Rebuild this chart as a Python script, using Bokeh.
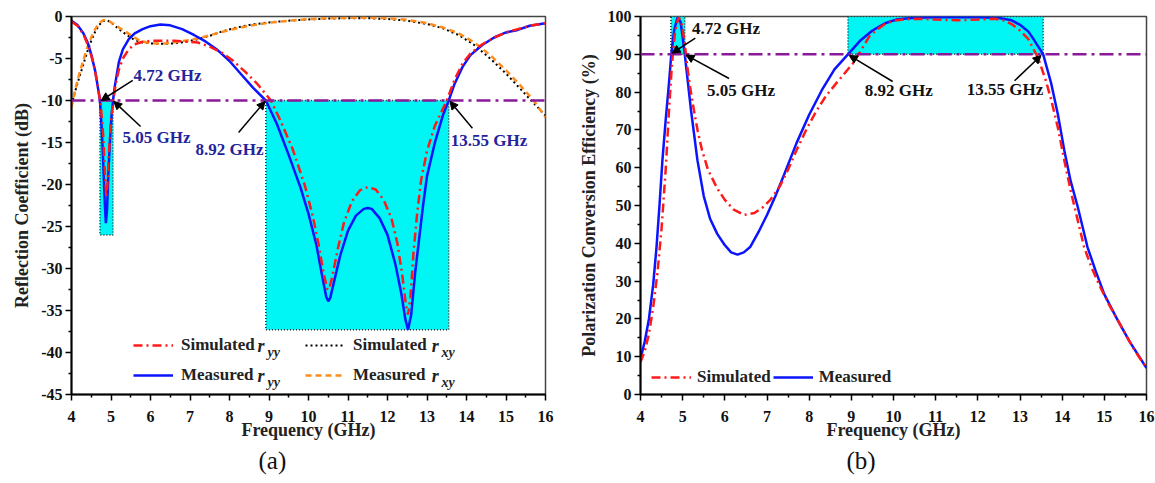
from bokeh.plotting import figure
from bokeh.models import (Legend, LegendItem, Label, Arrow, NormalHead, Span,
                          FixedTicker, Range1d, Title)
from bokeh.layouts import row
from bokeh.embed import file_html
from bokeh.resources import INLINE

# ---------------- data: panel (a) reflection coefficient (dB) ----------------
f_meas_yy = [4.0, 4.15, 4.3, 4.4, 4.5, 4.6, 4.68, 4.72, 4.76, 4.8, 4.84, 4.87, 4.9, 4.93, 4.97,
             5.01, 5.05, 5.1, 5.2, 5.3, 5.45, 5.6, 5.8, 6.0, 6.25, 6.5, 6.8, 7.1, 7.4, 7.7, 8.0,
             8.3, 8.6, 8.92, 9.2, 9.5, 9.8, 10.0, 10.2, 10.35, 10.45, 10.5, 10.55, 10.65, 10.8,
             11.0, 11.2, 11.4, 11.5, 11.6, 11.8, 12.0, 12.2, 12.35, 12.45, 12.52, 12.6, 12.7,
             12.8, 12.9, 13.0, 13.2, 13.4, 13.55, 13.7, 13.9, 14.1, 14.4, 14.7, 15.0, 15.3,
             15.6, 16.0]
db_meas_yy = [-0.5, -1.0, -2.0, -3.0, -4.5, -6.5, -8.8, -10.0, -13.0, -17.0, -22.0, -24.6, -23.0,
              -19.0, -15.0, -12.0, -10.0, -8.2, -5.4, -3.9, -2.7, -2.0, -1.5, -1.15, -0.95, -1.05,
              -1.5, -2.2, -3.0, -4.0, -5.3, -6.9, -8.5, -10.0, -12.8, -16.5, -20.4, -23.5, -27.2,
              -31.0, -33.4, -33.9, -33.5, -31.5, -28.5, -25.5, -23.7, -22.9, -22.8, -22.9, -24.0,
              -26.0, -29.5, -33.0, -36.0, -37.3, -35.5, -30.5, -26.5, -22.5, -19.0, -15.0, -11.8,
              -10.0, -8.0, -6.0, -4.6, -3.4, -2.5, -1.9, -1.6, -1.1, -0.8]

f_sim_yy = [4.0, 4.15, 4.3, 4.45, 4.55, 4.65, 4.74, 4.8, 4.85, 4.88, 4.91, 4.95, 5.0, 5.05, 5.12,
            5.2, 5.3, 5.45, 5.6, 5.8, 6.0, 6.3, 6.6, 6.9, 7.2, 7.5, 7.8, 8.1, 8.4, 8.7, 9.05, 9.3,
            9.6, 9.9, 10.1, 10.25, 10.38, 10.47, 10.52, 10.6, 10.75, 10.9, 11.1, 11.3, 11.5,
            11.7, 11.9, 12.1, 12.25, 12.38, 12.47, 12.52, 12.58, 12.66, 12.75, 12.85, 13.0,
            13.2, 13.42, 13.5, 13.7, 13.9, 14.1, 14.4, 14.7, 15.0, 15.3, 15.6, 16.0]
db_sim_yy = [-0.6, -1.1, -2.1, -3.8, -5.5, -7.8, -10.5, -14.0, -19.0, -21.5, -20.0, -16.0, -12.5,
             -10.2, -8.0, -6.3, -5.0, -3.9, -3.3, -3.0, -2.9, -2.9, -2.9, -3.0, -3.1, -3.6, -4.3,
             -5.3, -6.6, -8.0, -10.0, -12.5, -15.8, -20.0, -23.6, -27.0, -30.5, -32.4, -32.5,
             -31.0, -27.5, -24.5, -22.0, -20.7, -20.3, -20.6, -21.8, -24.0, -27.0, -31.0, -34.5,
             -35.5, -33.5, -28.0, -23.5, -19.5, -16.0, -13.0, -10.8, -10.0, -7.5, -5.6, -4.4,
             -3.3, -2.5, -1.9, -1.5, -1.1, -0.8]

f_sim_xy = [4.0, 4.1, 4.2, 4.3, 4.4, 4.5, 4.6, 4.7, 4.8, 4.9, 5.0, 5.2, 5.4, 5.6, 5.8, 6.0, 6.3,
            6.6, 6.9, 7.2, 7.5, 7.8, 8.1, 8.5, 9.0, 9.5, 10.0, 10.5, 11.0, 11.5, 12.0, 12.5,
            13.0, 13.4, 13.8, 14.2, 14.6, 15.0, 15.4, 15.7, 16.0]
db_sim_xy = [-10.5, -8.8, -7.2, -5.7, -4.2, -2.9, -1.8, -1.0, -0.55, -0.45, -0.7, -1.5, -2.2,
             -2.8, -3.1, -3.2, -3.25, -3.2, -3.0, -2.7, -2.3, -1.8, -1.4, -1.0, -0.7, -0.5,
             -0.35, -0.25, -0.2, -0.2, -0.3, -0.5, -0.9, -1.4, -2.2, -3.4, -5.0, -6.8, -8.8,
             -10.3, -11.8]

f_meas_xy = [4.0, 4.1, 4.2, 4.3, 4.4, 4.5, 4.6, 4.7, 4.8, 4.87, 4.95, 5.1, 5.3, 5.5, 5.7, 5.9,
             6.1, 6.4, 6.7, 7.0, 7.3, 7.6, 8.0, 8.5, 9.0, 9.5, 10.0, 10.5, 11.0, 11.5, 12.0,
             12.5, 13.0, 13.4, 13.8, 14.2, 14.6, 15.0, 15.4, 15.7, 16.0]
db_meas_xy = [-10.8, -8.6, -6.8, -5.2, -3.7, -2.5, -1.5, -0.8, -0.45, -0.4, -0.55, -1.0, -1.6,
              -2.2, -2.8, -3.1, -3.2, -3.2, -3.0, -2.8, -2.5, -2.1, -1.6, -1.1, -0.75, -0.5,
              -0.3, -0.2, -0.15, -0.15, -0.2, -0.4, -0.8, -1.3, -2.0, -3.1, -4.6, -6.4, -8.4,
              -10.0, -12.0]

# bands (crossing frequencies) and shading depth
band_lo = [4.72, 8.92]
band_hi = [5.05, 13.55]
band_bottom_db = [-26.0, -37.3]
ref_level_db = -10.0

# ---------------- data: panel (b) polarization conversion efficiency (%) ----------------
f_pcr_meas = [4.0, 4.1, 4.2, 4.3, 4.38, 4.45, 4.52, 4.6, 4.68, 4.73, 4.8, 4.88, 4.95, 5.0, 5.05,
              5.12, 5.2, 5.35, 5.5, 5.65, 5.82, 6.0, 6.15, 6.3, 6.45, 6.6, 6.8, 7.0, 7.2, 7.4,
              7.7, 8.0, 8.3, 8.6, 8.92, 9.2, 9.5, 9.8, 10.1, 10.5, 11.0, 11.5, 12.0, 12.5,
              12.8, 13.0, 13.2, 13.35, 13.55, 13.74, 13.9, 14.05, 14.2, 14.37, 14.6, 14.8,
              15.0, 15.3, 15.6, 16.0]
pcr_meas = [9.5, 14, 20, 29, 39, 50, 62, 73, 83, 90, 96.5, 99.8, 98.5, 94.5, 90, 83, 75, 62,
            52.5, 46.5, 42.5, 39.5, 37.6, 37.0, 37.6, 39, 43, 47.5, 52.5, 58, 66.5, 74, 80.5,
            86.0, 90, 93.5, 96.3, 98.2, 99.3, 99.7, 99.8, 99.8, 99.8, 99.6, 99.0, 97.8, 96,
            93.5, 90, 82.3, 74, 64.6, 56.5, 49.6, 39, 32.5, 26.5, 20, 14, 7.0]

f_pcr_sim = [4.0, 4.1, 4.2, 4.3, 4.4, 4.5, 4.6, 4.68, 4.75, 4.82, 4.9, 4.97, 5.05, 5.1, 5.18,
             5.27, 5.36, 5.46, 5.6, 5.82, 6.0, 6.2, 6.45, 6.7, 6.9, 7.08, 7.3, 7.5, 7.7, 7.95,
             8.17, 8.4, 8.64, 9.03, 9.2, 9.43, 9.6, 9.8, 10.0, 10.3, 10.6, 11.0, 11.5, 12.0,
             12.4, 12.6, 12.8, 13.0, 13.2, 13.43, 13.6, 13.74, 13.9, 14.05, 14.2, 14.35, 14.52,
             14.7, 14.9, 15.1, 15.4, 15.7, 16.0]
pcr_sim = [8.5, 11.5, 16, 23, 32, 44, 60, 76, 88, 96, 99.8, 98.5, 93, 87.5, 81, 75, 69.5, 64.6,
           59.5, 54.5, 51.5, 49, 47.5, 48, 49.5, 51.5, 55, 59.5, 64.6, 70.5, 75, 79, 82.3, 87.5,
           90.5, 94.8, 96.5, 98.0, 98.9, 99.3, 99.4, 99.2, 99.0, 99.2, 99.4, 99.0, 98.0, 96.3,
           94, 89, 83.5, 78, 70.5, 62, 54, 47, 39, 33.5, 28.5, 24, 18, 12, 7.0]

pcr_band_bottom = [90.0, 90.0]
pcr_band_top = [100.0, 100.0]
ref_level_pcr = 90.0

x_ticks = list(range(4, 17))
x_minor = [4.5 + i for i in range(12)]
y_ticks_a = [-45, -40, -35, -30, -25, -20, -15, -10, -5, 0]
y_tick_labels_a = ["-45", "-40", "-35", "-30", "-25", "-20", "-15", "-10", "-5", "0"]
y_ticks_b = [0, 10, 20, 30, 40, 50, 60, 70, 80, 90, 100]
y_tick_labels_b = [str(v) for v in y_ticks_b]

SERIF = "Liberation Serif"
BLUE = "#0a14ff"
RED = "#ff1a1a"
ORANGE = "#ff8c1a"
PURPLE = "#8a1a9a"
CYAN = "#00f5f5"
NAVY = "#23239b"


def style(p, yticks, ylabels):
    p.outline_line_color = "#444444"
    p.outline_line_width = 1.5
    p.grid.visible = False
    p.xaxis.ticker = FixedTicker(ticks=x_ticks, minor_ticks=x_minor)
    p.xaxis.major_label_overrides = {t: str(t) for t in x_ticks}
    minor_y = []
    step = yticks[1] - yticks[0]
    for t in yticks[:-1]:
        minor_y.append(t + step / 2)
    p.yaxis.ticker = FixedTicker(ticks=yticks, minor_ticks=minor_y)
    p.yaxis.major_label_overrides = {t: l for t, l in zip(yticks, ylabels)}
    for ax in (p.xaxis[0], p.yaxis[0]):
        ax.axis_line_width = 2
        ax.axis_line_color = "black"
        ax.major_tick_in = 0
        ax.major_tick_out = 6
        ax.minor_tick_in = 0
        ax.minor_tick_out = 3
        ax.major_tick_line_width = 1.5
        ax.minor_tick_line_width = 1.5
        ax.major_label_text_font = SERIF
        ax.major_label_text_font_style = "bold"
        ax.major_label_text_font_size = "16px"
        ax.major_label_text_color = "#111111"
        ax.axis_label_text_font = SERIF
        ax.axis_label_text_font_style = "bold"
        ax.axis_label_text_font_size = "18px"
        ax.axis_label_text_color = "#222222"
    p.xaxis.major_label_standoff = 10
    p.xaxis.axis_label_standoff = -5
    p.yaxis.major_label_standoff = 3
    p.yaxis.axis_label_standoff = 6


def label(p, x, y, text, color, size="17px", style_="bold"):
    p.add_layout(Label(x=x, y=y, text=text, text_color=color, text_font=SERIF,
                       text_font_style=style_, text_font_size=size,
                       text_baseline="middle", text_align="left"))


def arrow(p, x0, y0, x1, y1):
    p.add_layout(Arrow(end=NormalHead(size=8, fill_color="black", line_color="black"),
                       x_start=x0, y_start=y0, x_end=x1, y_end=y1,
                       line_color="black", line_width=1.5))


def caption(p, text, offset):
    p.add_layout(Title(text=text, align="left", offset=offset, text_font=SERIF,
                       text_font_style="normal", text_font_size="25px",
                       text_color="#111111", standoff=4), "below")


# ======================= panel (a) =======================
pa = figure(width=575, height=483, output_backend="svg", toolbar_location=None,
            x_range=Range1d(4, 16), y_range=Range1d(-45, 0),
            min_border_left=71, min_border_right=30, min_border_top=16, min_border_bottom=89,
            x_axis_label="Frequency (GHz)", y_axis_label="Reflection Coefficient (dB)")
style(pa, y_ticks_a, y_tick_labels_a)

pa.quad(left=band_lo, right=band_hi, top=[ref_level_db] * 2, bottom=band_bottom_db,
        fill_color=CYAN, line_color="#222222", line_dash="1 2", line_width=1.5)
pa.add_layout(Span(location=ref_level_db, dimension="width", line_color=PURPLE,
                   line_dash="14 5 3 5", line_width=2.5))

r_sxy = pa.line(f_sim_xy, db_sim_xy, line_color="black", line_dash="2 3", line_width=2)
r_mxy = pa.line(f_meas_xy, db_meas_xy, line_color=ORANGE, line_dash="6 4", line_width=2.5)
r_myy = pa.line(f_meas_yy, db_meas_yy, line_color=BLUE, line_width=2.5)
r_syy = pa.line(f_sim_yy, db_sim_yy, line_color=RED, line_dash="9 4 2 4", line_width=2.5)

leg_a = Legend(items=[LegendItem(label="Simulated", renderers=[r_syy]),
                      LegendItem(label="Measured", renderers=[r_myy]),
                      LegendItem(label="Simulated", renderers=[r_sxy]),
                      LegendItem(label="Measured", renderers=[r_mxy])],
               ncols=2, location=(62, 7), padding=0, margin=0, spacing=6,
               glyph_width=40, glyph_height=24, label_height=24, label_width=118,
               label_standoff=8, border_line_alpha=0, background_fill_alpha=0,
               label_text_font=SERIF, label_text_font_style="bold",
               label_text_font_size="17px", label_text_color="#222222")
pa.add_layout(leg_a)

for xr, xs, yr, sub in [(8.71, 8.96, -39.2, "yy"), (13.12, 13.37, -39.2, "xy"),
                        (8.71, 8.96, -42.75, "yy"), (13.12, 13.37, -42.75, "xy")]:
    label(pa, xr, yr, "r", "#222222", size="18px", style_="bold italic")
    label(pa, xs, yr - 0.8, sub, "#222222", size="14px", style_="bold italic")

label(pa, 5.57, -7.0, "4.72 GHz", NAVY)
arrow(pa, 5.55, -7.6, 4.75, -10.0)
label(pa, 5.29, -14.4, "5.05 GHz", NAVY)
arrow(pa, 5.75, -13.1, 5.07, -10.1)
label(pa, 7.14, -15.8, "8.92 GHz", NAVY)
arrow(pa, 8.23, -13.8, 8.9, -10.1)
label(pa, 13.6, -14.8, "13.55 GHz", NAVY)
arrow(pa, 14.15, -13.3, 13.58, -10.1)

caption(pa, "(a)", 187)

# ======================= panel (b) =======================
pb = figure(width=580, height=483, output_backend="svg", toolbar_location=None,
            x_range=Range1d(4, 16), y_range=Range1d(0, 100),
            min_border_left=61, min_border_right=9, min_border_top=16, min_border_bottom=88,
            x_axis_label="Frequency (GHz)", y_axis_label="Polarization Conversion Efficiency (%)")
style(pb, y_ticks_b, y_tick_labels_b)

pb.quad(left=band_lo, right=band_hi, top=pcr_band_top, bottom=pcr_band_bottom,
        fill_color=CYAN, line_color="#222222", line_dash="1 2", line_width=1.5)
pb.add_layout(Span(location=ref_level_pcr, dimension="width", line_color=PURPLE,
                   line_dash="14 5 3 5", line_width=2.5))
rb_meas = pb.line(f_pcr_meas, pcr_meas, line_color=BLUE, line_width=2.5)
rb_sim = pb.line(f_pcr_sim, pcr_sim, line_color=RED, line_dash="9 4 2 4", line_width=2.5)

leg_b = Legend(items=[LegendItem(label="Simulated", renderers=[rb_sim]),
                      LegendItem(label="Measured", renderers=[rb_meas])],
               orientation="horizontal", location=(11, 5), padding=0, margin=0, spacing=2,
               glyph_width=40, glyph_height=24, label_height=24, label_standoff=6,
               border_line_alpha=0, background_fill_alpha=0,
               label_text_font=SERIF, label_text_font_style="bold",
               label_text_font_size="17px", label_text_color="#222222")
pb.add_layout(leg_b)

label(pb, 5.22, 96.8, "4.72 GHz", "#111111")
arrow(pb, 5.3, 94.3, 4.75, 90.3)
label(pb, 5.58, 80.3, "5.05 GHz", "#111111")
arrow(pb, 6.1, 83.6, 5.08, 89.8)
label(pb, 9.32, 80.5, "8.92 GHz", "#111111")
arrow(pb, 9.98, 82.8, 8.95, 89.7)
label(pb, 11.74, 80.7, "13.55 GHz", "#111111")
arrow(pb, 12.87, 83.0, 13.5, 89.7)

caption(pb, "(b)", 206)

layout = row(pa, pb)
open("out.html", "w").write(file_html(layout, INLINE))
